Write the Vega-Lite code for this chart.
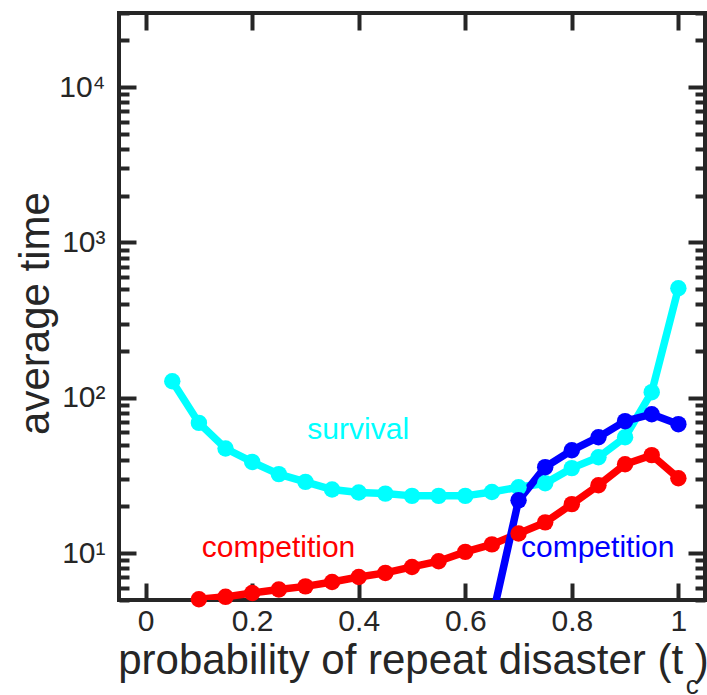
{
  "$schema": "https://vega.github.io/schema/vega-lite/v6.json",
  "width": 586,
  "height": 587,
  "autosize": "none",
  "padding": {"left": 119, "top": 13, "right": 2, "bottom": 95},
  "background": "white",
  "config": {
    "font": "Liberation Sans",
    "view": {"stroke": "#262626", "strokeWidth": 4},
    "axis": {
      "domain": false,
      "grid": false,
      "tickColor": "#262626",
      "tickWidth": 4,
      "labelColor": "#262626",
      "labelFontSize": 30,
      "labelOverlap": false,
      "labelBound": false,
      "labelFlush": false,
      "titleColor": "#262626",
      "titleFontSize": 42,
      "titleFontWeight": "normal"
    }
  },
  "data": {
    "values": [
      {"t": 0.05, "v": 128, "s": "survival"},
      {"t": 0.10, "v": 69.0, "s": "survival"},
      {"t": 0.15, "v": 47.2, "s": "survival"},
      {"t": 0.20, "v": 38.7, "s": "survival"},
      {"t": 0.25, "v": 32.3, "s": "survival"},
      {"t": 0.30, "v": 28.8, "s": "survival"},
      {"t": 0.35, "v": 25.7, "s": "survival"},
      {"t": 0.40, "v": 24.6, "s": "survival"},
      {"t": 0.45, "v": 24.2, "s": "survival"},
      {"t": 0.50, "v": 23.4, "s": "survival"},
      {"t": 0.55, "v": 23.4, "s": "survival"},
      {"t": 0.60, "v": 23.4, "s": "survival"},
      {"t": 0.65, "v": 24.8, "s": "survival"},
      {"t": 0.70, "v": 26.6, "s": "survival"},
      {"t": 0.75, "v": 28.2, "s": "survival"},
      {"t": 0.80, "v": 35.3, "s": "survival"},
      {"t": 0.85, "v": 41.5, "s": "survival"},
      {"t": 0.90, "v": 55.8, "s": "survival"},
      {"t": 0.95, "v": 108.8, "s": "survival"},
      {"t": 1.00, "v": 508, "s": "survival"},
      {"t": 0.10, "v": 5.06, "s": "competition_red"},
      {"t": 0.15, "v": 5.24, "s": "competition_red"},
      {"t": 0.20, "v": 5.55, "s": "competition_red"},
      {"t": 0.25, "v": 5.84, "s": "competition_red"},
      {"t": 0.30, "v": 6.12, "s": "competition_red"},
      {"t": 0.35, "v": 6.53, "s": "competition_red"},
      {"t": 0.40, "v": 7.03, "s": "competition_red"},
      {"t": 0.45, "v": 7.47, "s": "competition_red"},
      {"t": 0.50, "v": 8.16, "s": "competition_red"},
      {"t": 0.55, "v": 8.88, "s": "competition_red"},
      {"t": 0.60, "v": 10.2, "s": "competition_red"},
      {"t": 0.65, "v": 11.4, "s": "competition_red"},
      {"t": 0.70, "v": 13.4, "s": "competition_red"},
      {"t": 0.75, "v": 15.8, "s": "competition_red"},
      {"t": 0.80, "v": 20.7, "s": "competition_red"},
      {"t": 0.85, "v": 27.4, "s": "competition_red"},
      {"t": 0.90, "v": 37.4, "s": "competition_red"},
      {"t": 0.95, "v": 42.8, "s": "competition_red"},
      {"t": 1.00, "v": 30.4, "s": "competition_red"},
      {"t": 0.65, "v": 3.76, "s": "competition_blue"},
      {"t": 0.70, "v": 21.9, "s": "competition_blue"},
      {"t": 0.75, "v": 35.8, "s": "competition_blue"},
      {"t": 0.80, "v": 46.0, "s": "competition_blue"},
      {"t": 0.85, "v": 55.8, "s": "competition_blue"},
      {"t": 0.90, "v": 70.8, "s": "competition_blue"},
      {"t": 0.95, "v": 78.5, "s": "competition_blue"},
      {"t": 1.00, "v": 67.7, "s": "competition_blue"}
    ]
  },
  "resolve": {"axis": {"x": "independent", "y": "independent"}},
  "layer": [
    {
      "mark": {"type": "line", "strokeWidth": 7.5, "clip": true},
      "encoding": {
        "x": {
          "field": "t", "type": "quantitative",
          "scale": {"domain": [-0.05, 1.05], "nice": false, "zero": false},
          "axis": {
            "orient": "bottom",
            "values": [0, 0.2, 0.4, 0.6, 0.8, 1],
            "format": "~g",
            "tickSize": -17,
            "labelPadding": 23,
            "title": "probability of repeat disaster (t  )",
            "titleX": 294,
            "titleY": 73,
            "titleBaseline": "alphabetic",
            "titleAlign": "center"
          }
        },
        "y": {
          "field": "v", "type": "quantitative",
          "scale": {"type": "log", "domain": [5, 30000], "nice": false},
          "axis": {
            "orient": "left",
            "values": [5, 6, 7, 8, 9, 10, 20, 30, 40, 50, 60, 70, 80, 90, 100, 200, 300, 400, 500, 600, 700, 800, 900, 1000, 2000, 3000, 4000, 5000, 6000, 7000, 8000, 9000, 10000, 20000, 30000],
            "labelExpr": "datum.value == 10 ? '10¹' : datum.value == 100 ? '10²' : datum.value == 1000 ? '10³' : datum.value == 10000 ? '10⁴' : ''",
            "tickSize": {"condition": {"test": "datum.value == 10 || datum.value == 100 || datum.value == 1000 || datum.value == 10000", "value": -17}, "value": -10},
            "labelPadding": 31,
            "title": "average time",
            "titleX": -71,
            "titleY": 300,
            "titleBaseline": "alphabetic",
            "titleAlign": "center",
            "titleAngle": -90
          }
        },
        "color": {
          "field": "s", "type": "nominal",
          "scale": {"domain": ["survival", "competition_red", "competition_blue"], "range": ["#00ffff", "#ff0000", "#0000ff"]},
          "legend": null
        }
      }
    },
    {
      "transform": [{"filter": "datum.v >= 5"}],
      "mark": {"type": "point", "filled": true, "size": 270, "opacity": 1},
      "encoding": {
        "x": {"field": "t", "type": "quantitative", "axis": null},
        "y": {"field": "v", "type": "quantitative", "axis": null},
        "color": {"field": "s", "type": "nominal", "legend": null}
      }
    },
    {
      "data": {
        "values": [
          {"t": 0.399, "v": 54.2, "label": "survival", "s": "survival"},
          {"t": 0.2495, "v": 9.42, "label": "competition", "s": "competition_red"},
          {"t": 0.8486, "v": 9.42, "label": "competition", "s": "competition_blue"}
        ]
      },
      "mark": {"type": "text", "fontSize": 30, "align": "center", "baseline": "alphabetic"},
      "encoding": {
        "x": {"field": "t", "type": "quantitative", "axis": null},
        "y": {"field": "v", "type": "quantitative", "axis": null},
        "text": {"field": "label"},
        "color": {"field": "s", "type": "nominal", "legend": null}
      }
    },
    {
      "data": {"values": [{"t": 1.0262, "v": 1.25, "label": "c"}]},
      "mark": {"type": "text", "fontSize": 26, "align": "center", "baseline": "alphabetic", "color": "#262626", "clip": false},
      "encoding": {
        "x": {
          "field": "t", "type": "quantitative",
          "axis": {"orient": "top", "values": [0, 0.2, 0.4, 0.6, 0.8, 1], "tickSize": -17, "labels": false, "title": null}
        },
        "y": {
          "field": "v", "type": "quantitative",
          "axis": {
            "orient": "right",
            "values": [5, 6, 7, 8, 9, 10, 20, 30, 40, 50, 60, 70, 80, 90, 100, 200, 300, 400, 500, 600, 700, 800, 900, 1000, 2000, 3000, 4000, 5000, 6000, 7000, 8000, 9000, 10000, 20000, 30000],
            "tickSize": {"condition": {"test": "datum.value == 10 || datum.value == 100 || datum.value == 1000 || datum.value == 10000", "value": -17}, "value": -10},
            "labels": false,
            "title": null
          }
        },
        "text": {"field": "label"}
      }
    }
  ]
}
